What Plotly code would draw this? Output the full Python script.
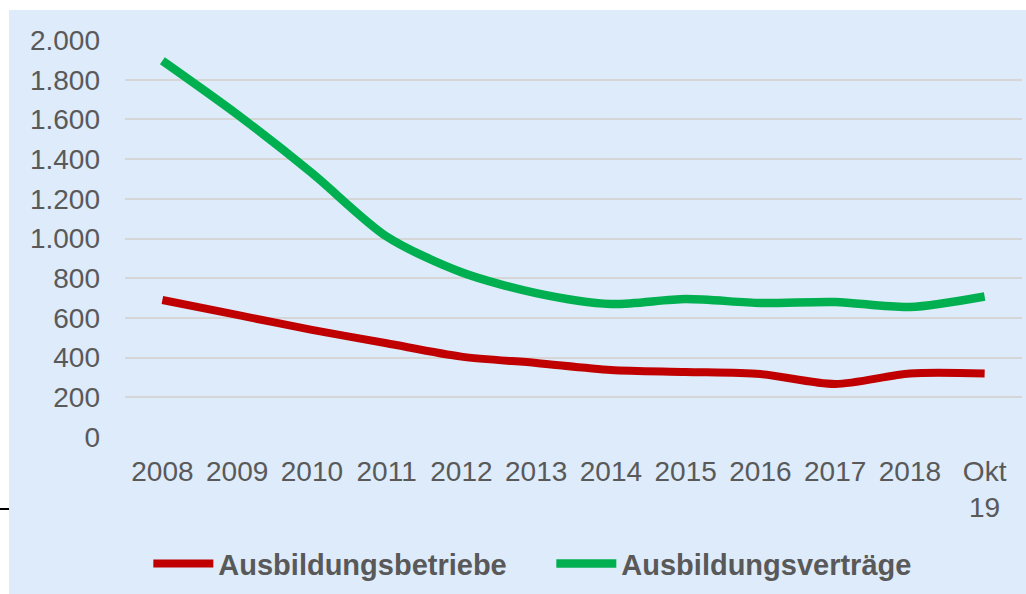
import plotly.graph_objects as go

categories = ["2008", "2009", "2010", "2011", "2012", "2013", "2014", "2015",
              "2016", "2017", "2018", "Okt<br>19"]
betriebe = [690, 615, 540, 472, 405, 373, 338, 328, 317, 267, 320, 320]
vertraege = [1895, 1625, 1330, 1010, 830, 725, 670, 695, 675, 680, 655, 708]
y_ticks = [0, 200, 400, 600, 800, 1000, 1200, 1400, 1600, 1800, 2000]
y_ticktext = ["0", "200", "400", "600", "800", "1.000", "1.200", "1.400",
              "1.600", "1.800", "2.000"]

RED = "#C00000"
GREEN = "#00B050"
BG = "#DDEBFA"
TXT = "#595959"
FONT = "Liberation Sans, Arial, sans-serif"

fig = go.Figure()
fig.add_trace(go.Scatter(x=categories, y=betriebe, name="Ausbildungsbetriebe",
                         mode="lines", line=dict(color=RED, width=8, shape="spline", smoothing=0.8)))
fig.add_trace(go.Scatter(x=categories, y=vertraege, name="Ausbildungsverträge",
                         mode="lines", line=dict(color=GREEN, width=8.5, shape="spline", smoothing=0.8)))

fig.update_layout(
    width=1026, height=594,
    margin=dict(l=125, r=4, t=40, b=157, autoexpand=False),
    paper_bgcolor="white",
    plot_bgcolor=BG,
    font=dict(family=FONT, color=TXT, size=28),
    showlegend=True,
    legend=dict(orientation="h", x=0.026, xanchor="left", y=-0.255, yanchor="top",
                font=dict(family=FONT, size=29, color=TXT, weight="bold"),
                bgcolor="rgba(0,0,0,0)", itemwidth=60, tracegroupgap=0,
                entrywidth=328, entrywidthmode="pixels"),
    shapes=[
        dict(type="line", xref="paper", yref="paper", x0=-0.14, x1=-0.12,
             y0=-0.1814, y1=-0.1814, line=dict(color="black", width=2), layer="below"),
        dict(type="rect", xref="paper", yref="paper", x0=-0.1293, x1=1.02,
             y0=-0.42, y1=1.0756, fillcolor=BG, line=dict(width=0), layer="below"),
    ],
)
fig.update_xaxes(type="category", range=[-0.5, 11.5], showgrid=False, zeroline=False,
                 showline=False, ticks="", tickfont=dict(size=28, color=TXT),
                 ticklabelstandoff=15)
fig.update_yaxes(range=[0, 2000], tickvals=y_ticks, ticktext=y_ticktext,
                 showgrid=True, gridcolor="#D6D6D6", gridwidth=1.5, zeroline=False,
                 showline=False, ticks="", tickfont=dict(size=28, color=TXT),
                 ticklabelstandoff=24)

fig.write_html("out.html", config={"displayModeBar": False},
               post_script="document.body.style.margin='0';document.body.style.overflow='hidden';")
